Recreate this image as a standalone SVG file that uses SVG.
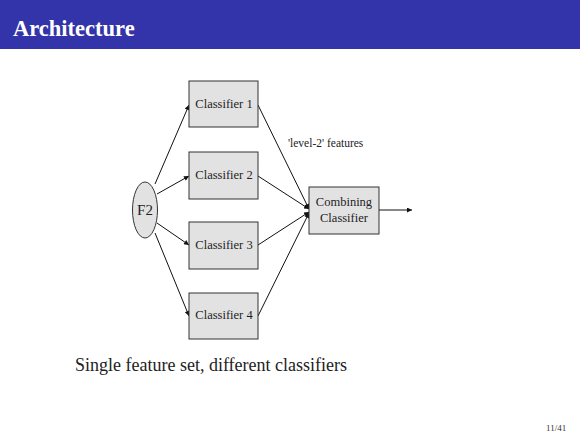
<svg xmlns="http://www.w3.org/2000/svg" width="580" height="435" viewBox="0 0 580 435">
<style>
.box{fill:#e2e2e2;stroke:#333;stroke-width:1}
.lbl{fill:#222;text-anchor:middle}
.edge{stroke:#111;stroke-width:1;fill:none;marker-end:url(#ah)}
</style>
<defs>
<marker id="ah" viewBox="0 0 10 10" refX="10" refY="5" markerWidth="8" markerHeight="5" orient="auto" markerUnits="userSpaceOnUse">
<path d="M0,0 L10,5 L0,10 z" fill="#111"/>
</marker>
</defs>
<rect x="0" y="0" width="580" height="435" fill="#fff"/>
<rect x="0" y="0" width="580" height="49" fill="#3333aa"/>
<text x="13" y="36" font-family="Liberation Serif, serif" font-size="22.5" font-weight="bold" fill="#fff">Architecture</text>
<g id="connectors">
<line class="edge" x1="155" y1="184" x2="189" y2="105"/>
<line class="edge" x1="157" y1="194" x2="189" y2="176"/>
<line class="edge" x1="157" y1="223" x2="189" y2="245"/>
<line class="edge" x1="155" y1="233" x2="189" y2="316"/>
<line class="edge" x1="258" y1="105" x2="309" y2="209"/>
<line class="edge" x1="258" y1="176" x2="309" y2="209"/>
<line class="edge" x1="258" y1="245" x2="309" y2="212"/>
<line class="edge" x1="258" y1="316" x2="309" y2="213"/>
<line class="edge" x1="379" y1="210" x2="412" y2="210"/>
</g>
<g font-family="Liberation Serif, serif">
<g id="f2">
<ellipse cx="145" cy="210" rx="12.5" ry="28" class="box"/>
<text x="145" y="215" class="lbl" font-size="15">F2</text>
</g>
<g id="c1"><rect x="189" y="81" width="69" height="46" class="box"/><text x="224" y="108" class="lbl" font-size="12.5">Classifier 1</text></g>
<g id="c2"><rect x="189" y="152" width="69" height="47" class="box"/><text x="224" y="179" class="lbl" font-size="12.5">Classifier 2</text></g>
<g id="c3"><rect x="189" y="222" width="69" height="47" class="box"/><text x="224" y="249" class="lbl" font-size="12.5">Classifier 3</text></g>
<g id="c4"><rect x="189" y="293" width="69" height="46" class="box"/><text x="224" y="319" class="lbl" font-size="12.5">Classifier 4</text></g>
<g id="comb"><rect x="309" y="187" width="70" height="47" class="box"/><text x="344" y="206" class="lbl" font-size="12.5">Combining</text><text x="344" y="222" class="lbl" font-size="12.5">Classifier</text></g>
<text x="288" y="147" font-size="11.5" fill="#222">'level-2' features</text>
<text x="75" y="371" font-size="18" fill="#222">Single feature set, different classifiers</text>
<text x="546" y="431" font-size="9" fill="#333">11/41</text>
</g>
</svg>
